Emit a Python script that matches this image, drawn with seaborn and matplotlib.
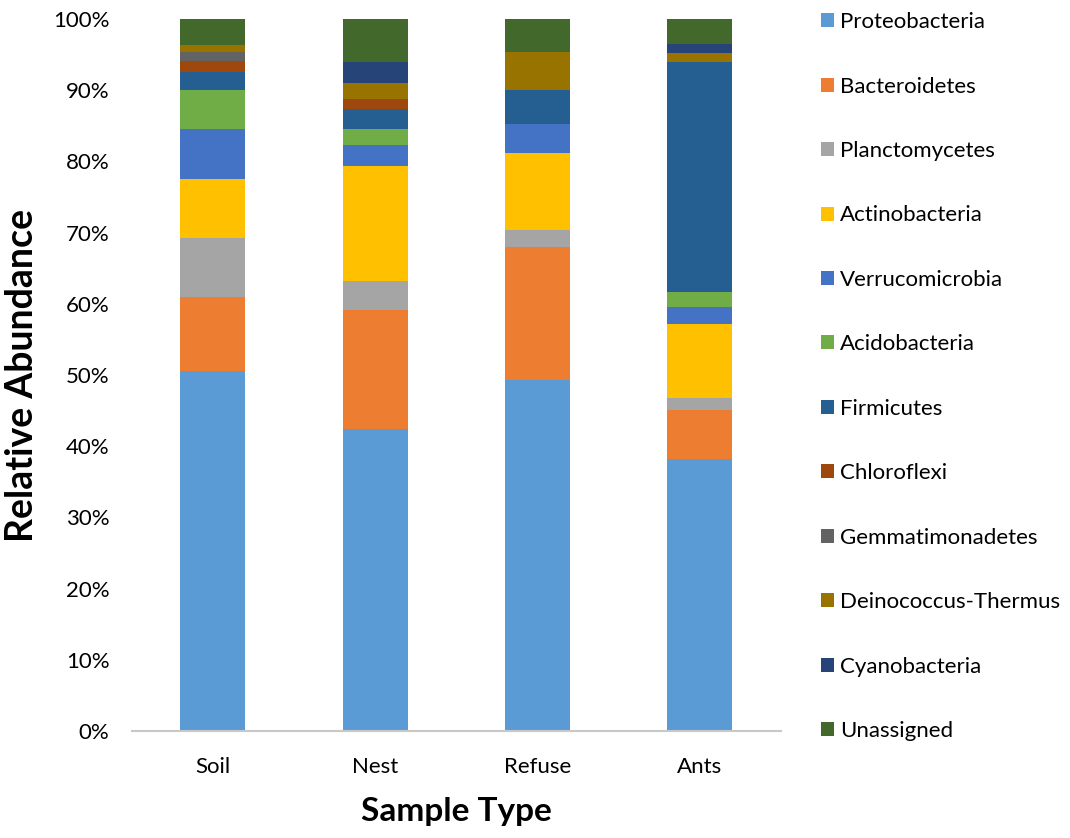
import numpy as np
import pandas as pd
import matplotlib
matplotlib.use("Agg")
import matplotlib.pyplot as plt
import seaborn as sns
from matplotlib.patches import Patch
from matplotlib.ticker import FuncFormatter

samples = ["Soil", "Nest", "Refuse", "Ants"]
phyla = ["Proteobacteria", "Bacteroidetes", "Planctomycetes", "Actinobacteria",
         "Verrucomicrobia", "Acidobacteria", "Firmicutes", "Chloroflexi",
         "Gemmatimonadetes", "Deinococcus-Thermus", "Cyanobacteria", "Unassigned"]

proteobacteria = [50.5, 42.4, 49.3, 38.2]
bacteroidetes = [10.4, 16.7, 18.7, 6.9]
planctomycetes = [8.4, 4.1, 2.4, 1.6]
actinobacteria = [8.3, 16.2, 10.8, 10.4]
verrucomicrobia = [6.9, 2.9, 4.1, 2.5]
acidobacteria = [5.6, 2.2, 0.0, 2.0]
firmicutes = [2.5, 2.8, 4.8, 32.3]
chloroflexi = [1.5, 1.4, 0.0, 0.0]
gemmatimonadetes = [1.2, 0.0, 0.0, 0.0]
deinococcus = [1.1, 2.3, 5.3, 1.3]
cyanobacteria = [0.0, 3.0, 0.0, 1.3]
unassigned = [3.6, 6.0, 4.6, 3.5]

series = [proteobacteria, bacteroidetes, planctomycetes, actinobacteria,
          verrucomicrobia, acidobacteria, firmicutes, chloroflexi,
          gemmatimonadetes, deinococcus, cyanobacteria, unassigned]

colors = ["#5B9BD5", "#ED7D31", "#A5A5A5", "#FFC000", "#4472C4", "#70AD47",
          "#255E91", "#9E480E", "#636363", "#997300", "#264478", "#43682B"]

plt.rcParams['font.family'] = ['Lato', 'DejaVu Sans']

fig = plt.figure(figsize=(10.7, 8.38), dpi=100)
ax = fig.add_axes([0.123, 0.1277, 0.607, 0.8496])

cum = np.cumsum(np.array(series), axis=0)
# draw tallest cumulative first, then overlay shorter ones
for k in range(len(phyla) - 1, -1, -1):
    df = pd.DataFrame({"Sample": samples, "Value": cum[k]})
    sns.barplot(data=df, x="Sample", y="Value", order=samples, color=colors[k],
                width=0.4, ax=ax, saturation=1, edgecolor="none", linewidth=0)

ax.set_ylim(0, 100)
ax.set_xlim(-0.5, 3.5)
ax.set_yticks(np.arange(0, 101, 10))
ax.yaxis.set_major_formatter(FuncFormatter(lambda v, p: f"{int(v)}%"))
ax.tick_params(axis='both', length=0, labelsize=16, colors="#000000")
ax.tick_params(axis='y', pad=16)
ax.tick_params(axis='x', pad=19)
for s in ["top", "right", "left"]:
    ax.spines[s].set_visible(False)
ax.spines["bottom"].set_color("#c8c8c8")
ax.spines["bottom"].set_linewidth(1.5)
ax.set_ylabel("Relative Abundance", fontsize=27, fontweight="bold", labelpad=10)
ax.set_xlabel("Sample Type", fontsize=24, fontweight="bold", labelpad=14)

handles = [Patch(facecolor=c, edgecolor="none") for c in colors]
fig.legend(handles, phyla, loc="upper left", bbox_to_anchor=(0.767, 0.9856),
           frameon=False, fontsize=16, labelspacing=2.0, handlelength=0.59,
           handleheight=0.59, handletextpad=0.27, borderpad=0, borderaxespad=0)

fig.savefig("out.png", dpi=100)
